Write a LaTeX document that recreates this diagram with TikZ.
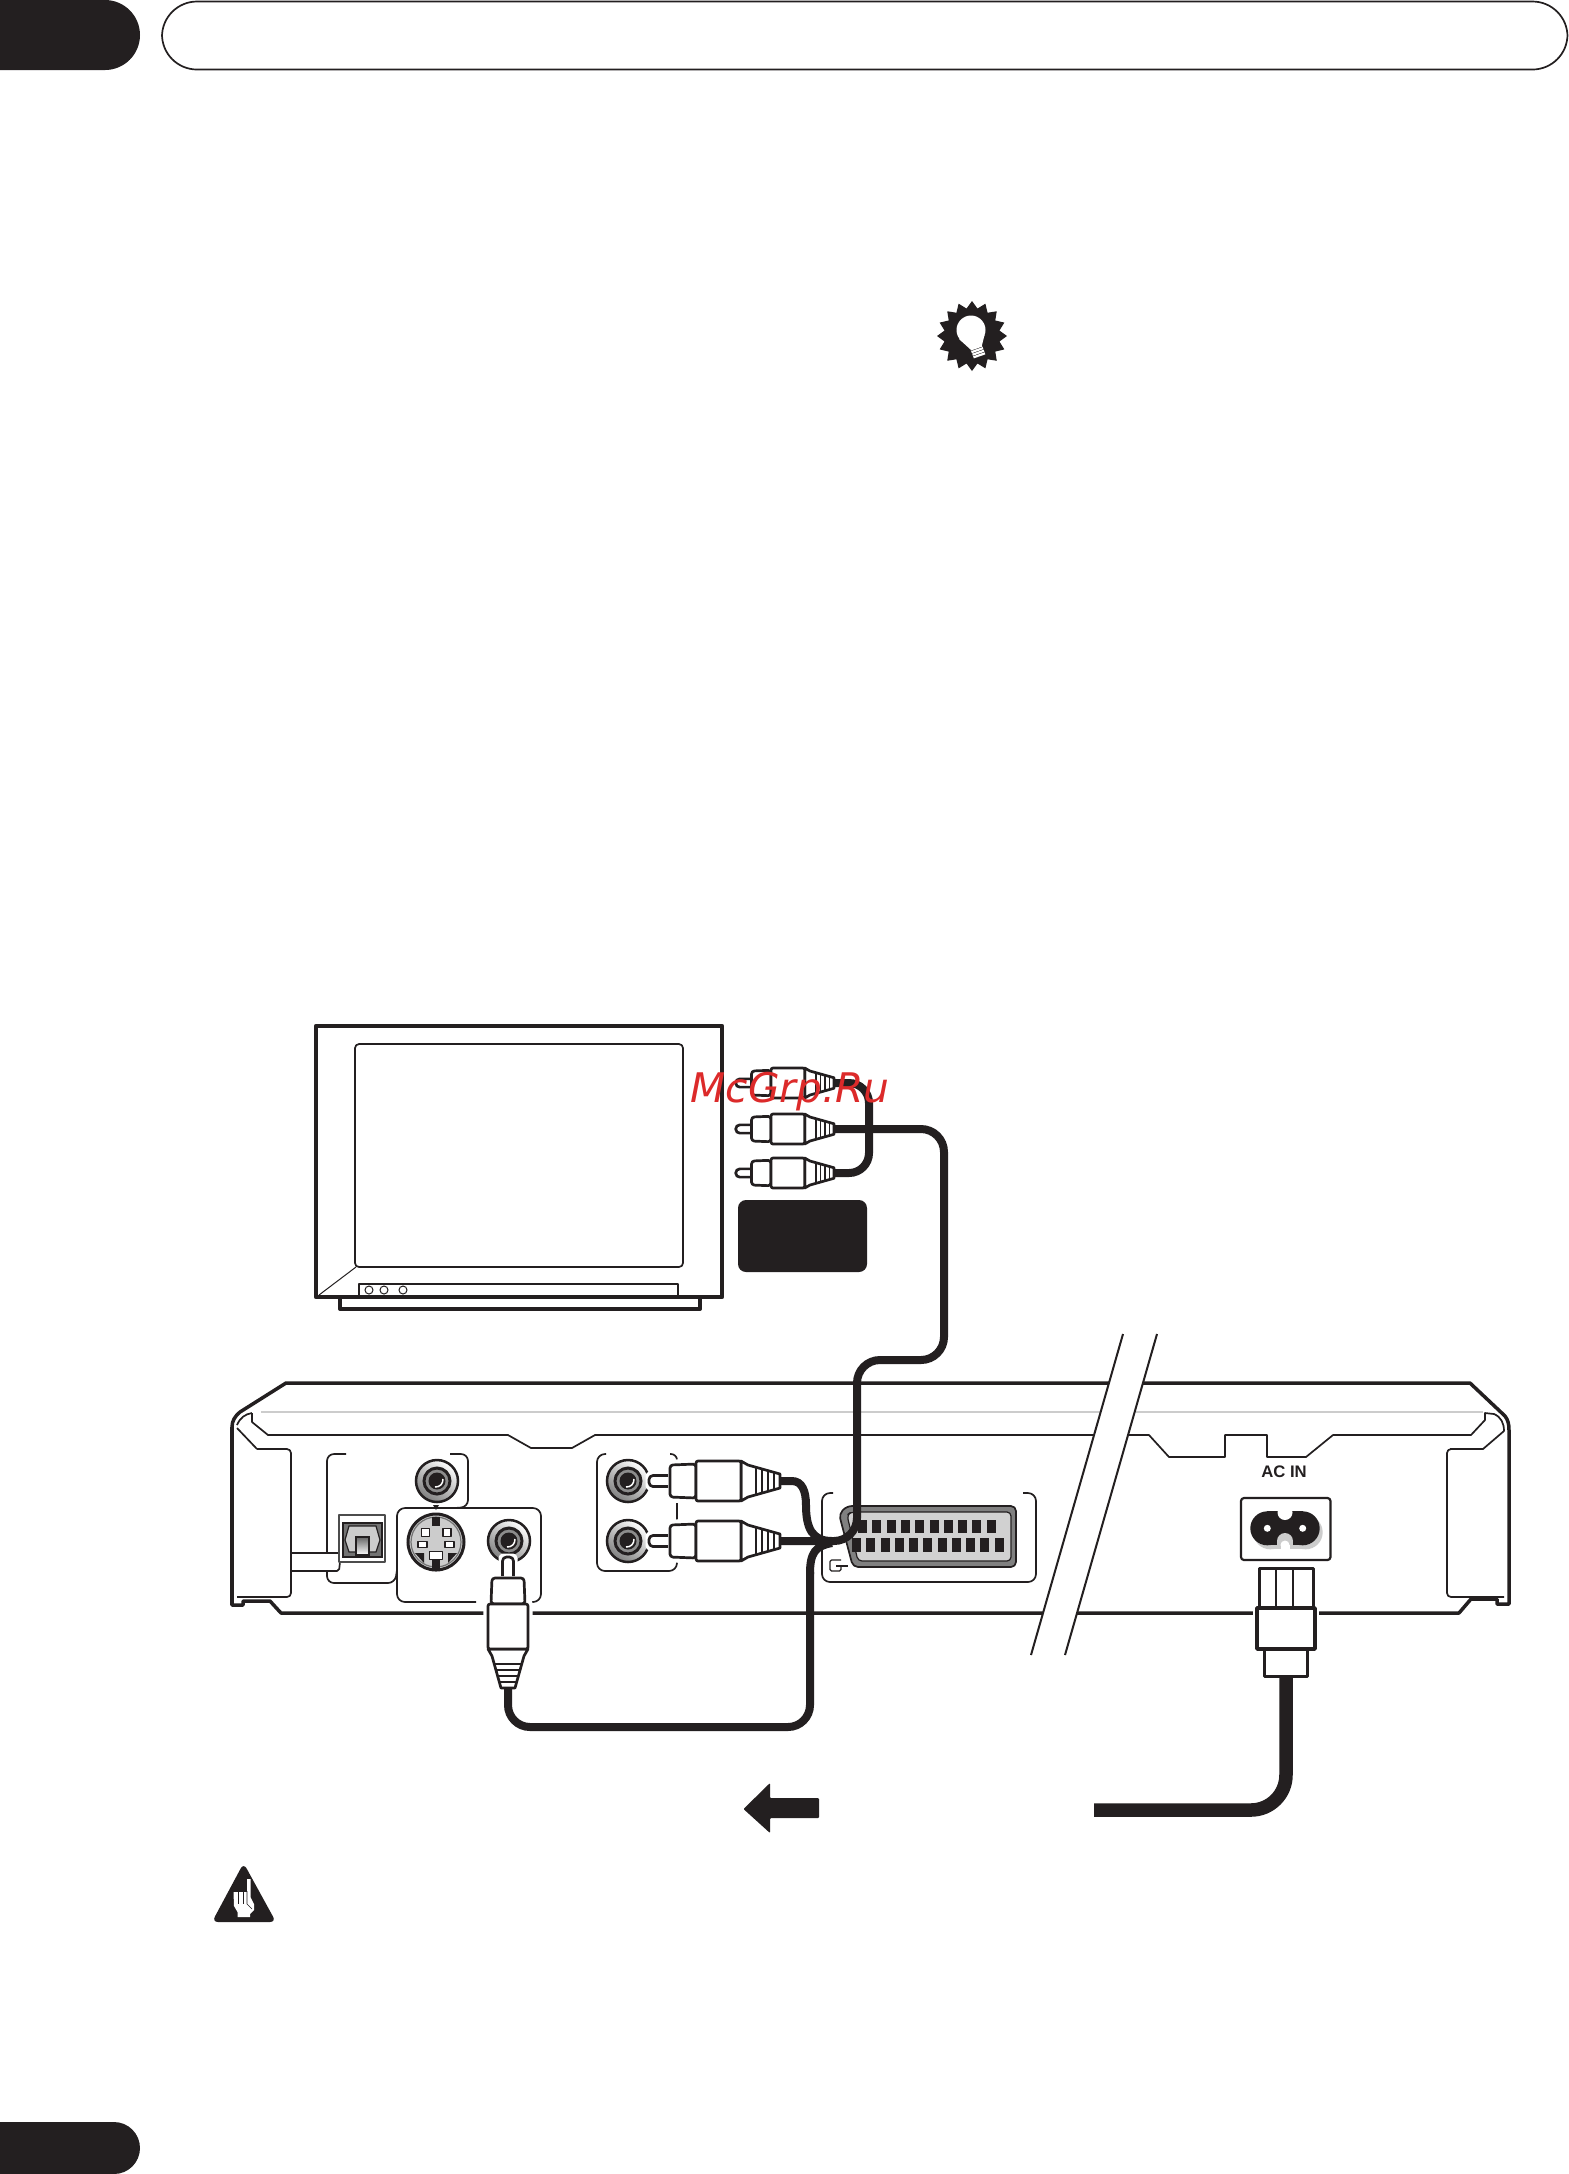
\documentclass[tikz,border=0pt]{standalone}
\usepackage{fontspec}
\setmainfont{Liberation Sans}
\newfontfamily\markfont{DejaVu Sans}
\usetikzlibrary{positioning}

\definecolor{inkblack}{HTML}{231F20}
\definecolor{markred}{HTML}{DC2A2A}

\tikzset{
    cable/.style={draw=inkblack, line width=0.08cm, line cap=butt},
    heavyline/.style={draw=inkblack, line width=0.04cm, line join=round},
    caseline/.style={draw=inkblack, line width=0.035cm, line join=round},
    thinline/.style={draw=inkblack, line width=0.017cm, line join=round},
    plugline/.style={draw=inkblack, fill=white, line width=0.027cm, line join=round},
    % plug with the end of its cable at the origin and the pin towards -x
    rcaplug/.pic={
        \draw[white, line width=0.09cm, line join=round] (-3,-8)--(-39,-20)--(-84,-20)--(-110,-16)--(-110,-5)--(-130,-5)--(-130,5)--(-110,5)--(-110,16)--(-84,20)--(-39,20)--(-3,8);
        \draw[plugline, rounded corners=0.04cm] (-112,-5.5)--(-131,-5.5)--(-131,5.5)--(-112,5.5);
        \draw[plugline, rounded corners=0.03cm] (-84,-17)--(-110,-16)--(-110,16)--(-84,17)--cycle;
        \draw[plugline] (-39,-20)--(-32,-16)--(0,-7)--(0,7)--(-32,16)--(-39,20)--cycle;
        \draw[plugline, rounded corners=0.02cm] (-84,-20)--(-39,-20)--(-39,20)--(-84,20)--cycle;
        \foreach \x in {-24,-18,-12,-6}{
                \draw[thinline] (\x,{-7-0.28*(-\x)}) -- (\x,{7+0.28*(-\x)});
            }
    },
    jackhole/.pic={
        \draw[line width=0.025cm, draw=inkblack, top color=white, bottom color=black!50, shading angle=-35] (0,0) circle[radius=21];
        \filldraw[fill=black!45, draw=inkblack, line width=0.03cm] (0,0) circle[radius=13];
        \fill[inkblack] (0,0) circle[radius=8.5];
        \draw[white, line width=0.015cm] (-2,6) .. controls (3,6) and (6,3) .. (6,-2);
    },
}

\begin{document}
\begin{tikzpicture}[x=0.01cm, y=-0.01cm]
    \useasboundingbox (0,0) rectangle (1569,2174);
    \fill[white] (0,0) rectangle (1569,2174);

    % page furniture
    \begin{scope}
        \clip (0,0) rectangle (1569,2174);
        \fill[inkblack, rounded corners=0.35cm] (-50,0) rectangle (140,70);
        \fill[inkblack, rounded corners=0.26cm] (-50,2122) rectangle (140,2174);
    \end{scope}
    \draw[thinline, rounded corners=0.35cm] (162,1.5) rectangle (1567.5,69.5);

    % tip symbol
    \begin{scope}[shift={(972,336)}]
        \fill[inkblack] plot[samples at={0,11.25,...,348.75}] (\x:{31.5+3.5*cos(16*\x)}) -- cycle;
    \end{scope}
    \fill[white] (971,330) circle[radius=14.5];
    \fill[white] (959,339) -- (970,349) -- (982,345) -- (984.5,335) -- cycle;
    \foreach \s in {0,...,3}{
            \draw[white, line width=0.022cm] ({970.5+\s},{349.5+2.6*\s}) -- ++(11.5,-4);
        }

    % television
    \draw[inkblack, line width=0.045cm, line join=round] (316,1026) rectangle (722,1297);
    \draw[heavyline] (340,1297) -- (340,1309) -- (700,1309) -- (700,1297);
    \draw[thinline, rounded corners=0.04cm] (355,1044) rectangle (683,1267);
    \draw[line width=0.01cm, draw=inkblack] (356,1267) -- (319,1295);
    \draw[thinline, line width=0.02cm] (359,1295) -- (359,1284) -- (678,1284) -- (678,1295);
    \foreach \x in {369,384,403}{
            \draw[line width=0.01cm, draw=inkblack] (\x,1290) circle[radius=4];
        }
    \fill[inkblack, rounded corners=0.08cm] (738,1200) rectangle (867,1272);

    % recorder case
    \draw[caseline, fill=white] (286,1383) -- (1470,1383) -- (1505,1416) .. controls (1508,1420) and (1509,1424) .. (1509,1430) -- (1509,1604) -- (1497,1604) -- (1497,1599) -- (1471,1599) -- (1459,1613) -- (281,1613) -- (270,1601) -- (243,1601) -- (243,1605) -- (232,1605) -- (232,1427) .. controls (232,1421) and (235,1416) .. (240,1412) -- cycle;
    \draw[black!20, line width=0.025cm] (261,1412) -- (1483,1412);
    \draw[thinline] (252,1413) -- (252,1422) -- (268,1435) -- (508,1435) -- (531,1448) -- (572,1448) -- (595,1435) -- (1149,1435) -- (1169,1457) -- (1225,1457) -- (1225,1435) -- (1267,1435) -- (1267,1457) -- (1306,1457) -- (1333,1435) -- (1471,1435) -- (1485,1420) -- (1485,1413) -- (1494,1414) .. controls (1501,1417) and (1504,1423) .. (1504,1431) -- (1483,1449) -- (1450,1449);
    \draw[thinline, rounded corners=0.04cm] (1450,1449) -- (1447,1449) -- (1447,1597) -- (1504,1597);
    \draw[thinline] (237,1425) .. controls (240,1418) and (245,1414) .. (252,1413);
    \draw[thinline] (237,1428) -- (257,1449);
    \draw[thinline, rounded corners=0.04cm] (257,1449) -- (291,1449) -- (291,1597) -- (237,1597);
    \draw[thinline] (291,1553) -- (339,1553);
    \draw[thinline, rounded corners=0.02cm] (291,1571) -- (339,1571) -- (340,1562);

    % outlined groups of sockets
    \draw[thinline, rounded corners=0.07cm] (346,1454) -- (327,1454) -- (327,1553);
    \draw[thinline, rounded corners=0.07cm] (327,1571) -- (327,1583) -- (395,1583) -- (397,1570);
    \draw[thinline, rounded corners=0.07cm] (450,1454) -- (468,1454) -- (468,1507) -- (455,1508);
    \draw[thinline, rounded corners=0.08cm] (476,1602) -- (397,1602) -- (397,1508) -- (541,1508) -- (541,1602) -- (528,1602);
    \draw[thinline, rounded corners=0.08cm] (606,1454) -- (597,1454) -- (597,1571) -- (677,1571) -- (677,1560);
    \draw[thinline, rounded corners=0.06cm] (670,1454) -- (677,1454) -- (677,1462);
    \draw[thinline] (677,1503) -- (677,1520);
    \draw[thinline, rounded corners=0.08cm] (833,1493) -- (822,1493) -- (822,1582) -- (1036,1582) -- (1036,1493) -- (1023,1493);

    % optical output
    \draw[thinline, draw=black!70, line width=0.02cm] (339,1515) rectangle (385,1562);
    \filldraw[fill=black!55, draw=inkblack, line width=0.012cm] (343,1523) rectangle (382,1557);
    \filldraw[fill=black!20, draw=inkblack, line width=0.012cm] (349,1526) -- (376,1526) -- (380,1540) -- (376,1552) -- (349,1552) -- (345,1540) -- cycle;
    \shade[top color=black!60, bottom color=white, draw=inkblack, line width=0.012cm] (356,1537) rectangle (369,1555);

    % video sockets
    \pic at (437,1481) {jackhole};
    \pic at (509,1541) {jackhole};
    \pic at (628,1481) {jackhole};
    \pic at (628,1541) {jackhole};
    \fill[inkblack] (433,1505) -- (439,1505) -- (436,1510) -- cycle;
    \filldraw[fill=black!20, draw=inkblack, line width=0.03cm] (436,1542) circle[radius=28];
    \draw[black!55, line width=0.012cm] (436,1542) circle[radius=25];
    \fill[inkblack] (432,1517) rectangle (440,1526);
    \fill[inkblack] (432,1560) rectangle (440,1569);
    \fill[inkblack] (415,1553) -- (424,1553) -- (424,1563) -- cycle;
    \fill[inkblack] (457,1553) -- (448,1553) -- (448,1563) -- cycle;
    \foreach \x/\y/\w/\h in {425.7/1532.7/4/4, 447/1532.7/4/4, 422.5/1544.3/4.5/3, 449.5/1544.3/4.5/3, 436/1555.7/6.5/4}{
            \draw[thinline, fill=white, line width=0.012cm] ({\x-\w},{\y-\h}) rectangle ({\x+\w},{\y+\h});
        }

    % scart socket
    \draw[thinline, fill=black!50, rounded corners=0.05cm] (839,1514) -- (847,1506) -- (1016,1506) -- (1016,1567) -- (853,1567) -- cycle;
    \draw[thinline, fill=black!18, rounded corners=0.04cm, line width=0.012cm] (847,1515) -- (851,1512) -- (1011,1512) -- (1011,1561) -- (858,1561) -- cycle;
    \foreach \n in {0,...,9}{
            \fill[inkblack] ({858+14.3*\n},1520) rectangle ++(9,13);
        }
    \foreach \n in {0,...,10}{
            \fill[inkblack] ({852+14.25*\n},1538) rectangle ++(9,14);
        }
    \draw[thinline, line width=0.012cm, rounded corners=0.015cm] (841,1560) -- (830,1560) -- (830,1571) -- (841,1571) -- (841,1566);
    \draw[thinline, line width=0.012cm] (836,1566) -- (848,1566);

    % mains inlet
    \node[font=\bfseries\fontsize{4.75}{6}\selectfont, text=inkblack, inner sep=0] (acin) at (1284,1472) {AC IN};
    \draw[thinline, line width=0.022cm, rounded corners=0.03cm] (1241,1498) rectangle (1330.5,1560);
    \begin{scope}[shift={(3,4)}]
        \fill[black!20] (1267.3,1528.3) circle[radius=17];
        \fill[black!20] (1302.7,1528.3) circle[radius=17];
        \fill[black!20] (1267.3,1511.3) rectangle (1302.7,1545.3);
    \end{scope}
    \fill[inkblack] (1267.3,1528.3) circle[radius=17];
    \fill[inkblack] (1302.7,1528.3) circle[radius=17];
    \fill[inkblack] (1267.3,1511.3) rectangle (1302.7,1545.3);
    \fill[white] (1285,1512.5) circle[radius=7.5];
    \fill[black!20] (1285,1541) circle[radius=8];
    \fill[black!20] (1277,1541) rectangle (1293,1549);
    \fill[white] (1285,1545) circle[radius=4.5];
    \fill[white] (1280.5,1545) rectangle (1289.5,1551);
    \fill[white] (1267.3,1528.3) circle[radius=3.5];
    \fill[white] (1302.7,1528.3) circle[radius=3.5];

    % the break in the case
    \fill[white] (1123,1334) -- (1157,1334) -- (1065,1655) -- (1031,1655) -- cycle;
    \draw[thinline, line width=0.02cm] (1123,1334) -- (1031,1655);
    \draw[thinline, line width=0.02cm] (1157,1334) -- (1065,1655);

    % plugs and where their cables leave them
    \coordinate (tvplugA) at (834,1083);
    \coordinate (tvplugB) at (834,1129);
    \coordinate (tvplugC) at (834,1173);
    \coordinate (rearplugA) at (780,1481);
    \coordinate (rearplugB) at (780,1541);
    \coordinate (videoplug) at (508,1688);
    \coordinate (powerplug) at (1286,1676);
    \coordinate (powerend) at (1094,1810);

    % cables
    \draw[cable, rounded corners=0.22cm] (videoplug) -- (508,1727) -- (810,1727) -- (810,1572);
    \draw[cable] (810,1574) .. controls (810,1553) and (815,1546) .. (832,1543);
    \draw[cable] (rearplugA) -- (792,1481) .. controls (802,1481) and (806,1491) .. (806,1505) .. controls (806,1528) and (812,1541) .. (832,1541);
    \draw[cable, rounded corners=0.23cm] (tvplugB) -- (944,1129) -- (944,1360) -- (857,1360) -- (857,1541) -- (rearplugB);
    \draw[cable, rounded corners=0.2cm] (tvplugA) -- (869,1083) -- (869,1173) -- (tvplugC);
    \draw[inkblack, line width=0.135cm, rounded corners=0.35cm] (powerplug) -- (1286,1810) -- (powerend);

    \foreach \y in {1083,1129,1173}{
            \pic[scale=0.75] at (834,\y) {rcaplug};
        }
    \pic at (rearplugA) {rcaplug};
    \pic at (rearplugB) {rcaplug};
    \pic[rotate=-90] at (videoplug) {rcaplug};

    % mains plug
    \draw[white, line width=0.08cm] (1257,1608) rectangle (1315,1649);
    \draw[heavyline, line width=0.03cm, fill=white] (1259,1568) rectangle (1313,1608);
    \draw[heavyline, line width=0.025cm] (1276,1568) -- (1276,1608);
    \draw[heavyline, line width=0.025cm] (1293,1568) -- (1293,1608);
    \draw[heavyline, line width=0.035cm, fill=white] (1257,1608) rectangle (1315,1649);
    \draw[heavyline, line width=0.03cm, fill=white] (1264,1649) rectangle (1307,1676);

    % flow arrow
    \fill[inkblack, rounded corners=0.01cm] (743.5,1809) -- (770,1783) -- (770,1798) -- (819,1798) -- (819,1818) -- (770,1818) -- (770,1833) -- cycle;

    % caution symbol
    \fill[inkblack, rounded corners=0.06cm] (243.6,1863) -- (276,1922) -- (212,1922) -- cycle;
    \fill[white] (247,1879) -- (250.5,1879) -- (250.5,1897) -- (254,1904) -- (254,1910) -- (250,1914) -- (250,1917) -- (237.5,1917) -- (237.5,1912) -- (234,1906) -- (233.5,1892) -- (247,1892) -- cycle;
    \draw[inkblack, line width=0.006cm] (238,1892) -- (238,1904);
    \draw[inkblack, line width=0.006cm] (243,1891) -- (243,1904);
    \draw[inkblack, line width=0.006cm] (247,1891) -- (247,1904) -- (252,1909);

    % site mark
    \node[anchor=base west, inner sep=0, text=markred, font=\markfont\itshape\fontsize{11.6}{13}\selectfont] (sitemark) at (690,1102) {McGrp.Ru};
\end{tikzpicture}
\end{document}
